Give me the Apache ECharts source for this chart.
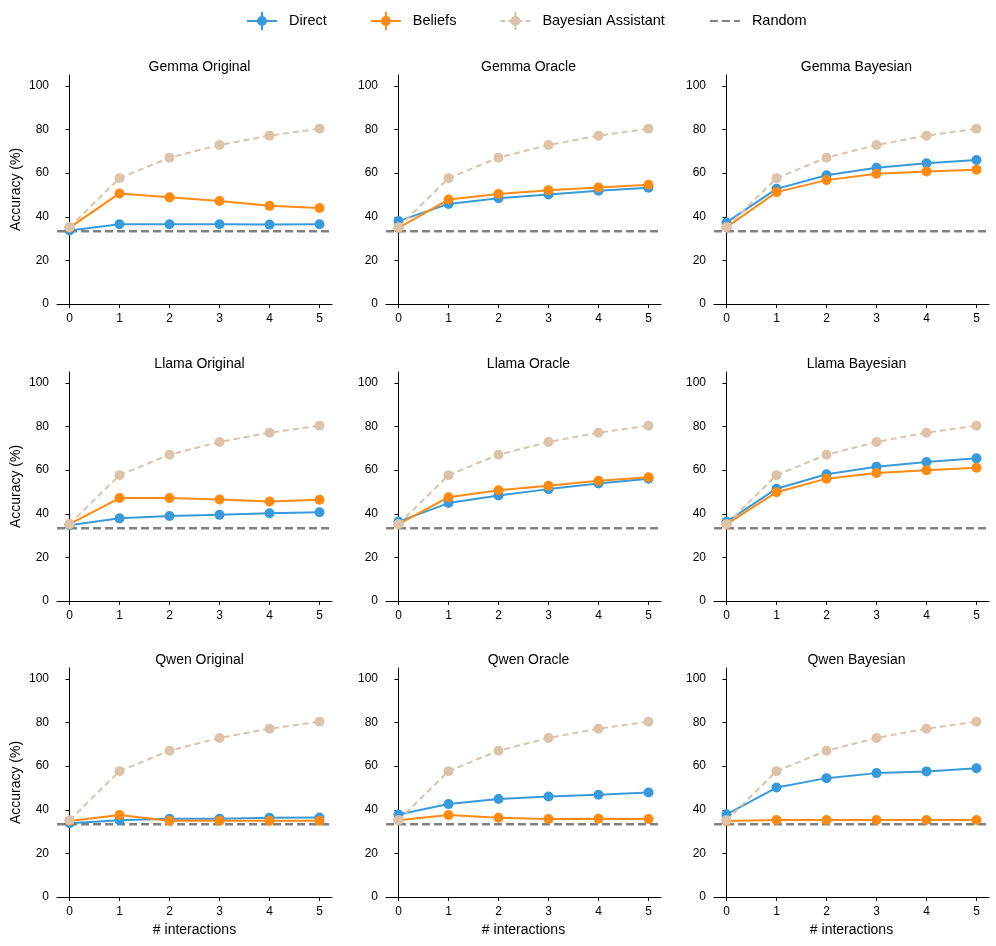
<!DOCTYPE html>
<html>
<head>
<meta charset="utf-8">
<script src="https://cdn.jsdelivr.net/npm/echarts@6/dist/echarts.min.js"></script>
<style>
html,body{margin:0;padding:0;background:#fff;}
#c{width:996px;height:946px;}
</style>
</head>
<body>
<div id="c"></div>
<script>
const interactions = [0, 1, 2, 3, 4, 5];
const panelTitles = [
  'Gemma Original', 'Gemma Oracle', 'Gemma Bayesian',
  'Llama Original', 'Llama Oracle', 'Llama Bayesian',
  'Qwen Original', 'Qwen Oracle', 'Qwen Bayesian'
];
const yTicks = [0, 20, 40, 60, 80, 100];
const randomLevel = 33.3;
const bayesianAssistant = [35.2, 57.7, 67.1, 72.9, 77.2, 80.4];

const directGemmaOriginal = [33.7, 36.6, 36.6, 36.6, 36.4, 36.6];
const beliefsGemmaOriginal = [35.0, 50.7, 48.9, 47.2, 45.0, 44.0];
const directGemmaOracle = [38.0, 45.9, 48.5, 50.2, 51.9, 53.3];
const beliefsGemmaOracle = [34.9, 47.9, 50.4, 52.2, 53.4, 54.7];
const directGemmaBayesian = [37.4, 52.8, 59.0, 62.5, 64.5, 66.0];
const beliefsGemmaBayesian = [35.2, 51.3, 56.8, 59.7, 60.8, 61.6];

const directLlamaOriginal = [34.7, 37.9, 39.0, 39.5, 40.2, 40.7];
const beliefsLlamaOriginal = [35.2, 47.2, 47.2, 46.5, 45.6, 46.4];
const directLlamaOracle = [36.4, 44.9, 48.4, 51.3, 53.9, 56.1];
const beliefsLlamaOracle = [35.2, 47.6, 50.8, 52.8, 55.1, 56.7];
const directLlamaBayesian = [36.3, 51.5, 58.1, 61.6, 63.7, 65.4];
const beliefsLlamaBayesian = [35.2, 49.9, 56.1, 58.7, 59.9, 61.1];

const directQwenOriginal = [33.8, 35.2, 35.9, 35.9, 36.3, 36.4];
const beliefsQwenOriginal = [34.9, 37.6, 35.0, 35.0, 35.0, 35.0];
const directQwenOracle = [37.8, 42.6, 44.9, 46.1, 46.9, 47.9];
const beliefsQwenOracle = [35.2, 37.6, 36.3, 35.8, 35.9, 35.8];
const directQwenBayesian = [37.9, 50.2, 54.5, 56.8, 57.6, 59.0];
const beliefsQwenBayesian = [34.9, 35.3, 35.3, 35.3, 35.3, 35.3];

const directAll = [directGemmaOriginal, directGemmaOracle, directGemmaBayesian,
  directLlamaOriginal, directLlamaOracle, directLlamaBayesian,
  directQwenOriginal, directQwenOracle, directQwenBayesian];
const beliefsAll = [beliefsGemmaOriginal, beliefsGemmaOracle, beliefsGemmaBayesian,
  beliefsLlamaOriginal, beliefsLlamaOracle, beliefsLlamaBayesian,
  beliefsQwenOriginal, beliefsQwenOracle, beliefsQwenBayesian];

const COL_DIRECT = '#3a9ad9';
const COL_BELIEFS = '#ff8a14';
const COL_BAYES = '#dcc3ab';
const COL_RANDOM = '#808080';
const FONT = 'Liberation Sans, Arial, Helvetica, sans-serif';

const colLeft = [57, 386, 714];
const colWidth = 275;
const rowTop = [75, 372, 668];
const rowHeight = 229;
const X_MIN = -0.25, X_MAX = 5.25;

const ICON_SOLID = 'path://M0,9h30v2h-30z M14,1h2v18h-2z M20,10a5,5 0 1,1 -10,0a5,5 0 1,1 10,0z';
const ICON_DASHED = 'path://M0,9h5v2h-5z M8,9h5v2h-5z M17,9h5v2h-5z M25,9h5v2h-5z M14,1h2v18h-2z M20,10a5,5 0 1,1 -10,0a5,5 0 1,1 10,0z';

const grids = [], xAxes = [], yAxes = [], series = [], titles = [];
const pair = arr => interactions.map((x, i) => [x, arr[i]]);

for (let p = 0; p < 9; p++) {
  const r = Math.floor(p / 3), c = p % 3;
  grids.push({left: colLeft[c], top: rowTop[r], width: colWidth, height: rowHeight, containLabel: false});
  titles.push({
    text: panelTitles[p],
    left: colLeft[c] + colWidth / 2,
    top: rowTop[r] - 20,
    textAlign: 'center',
    textStyle: {fontFamily: FONT, fontSize: 14, fontWeight: 'normal', color: '#000'}
  });
  xAxes.push({
    gridIndex: p, type: 'value', min: X_MIN, max: X_MAX,
    name: r === 2 ? '# interactions' : '',
    nameLocation: 'middle', nameGap: 26,
    nameTextStyle: {fontFamily: FONT, fontSize: 14, color: '#000'},
    axisLine: {show: true, lineStyle: {color: '#000', width: 1}},
    axisTick: {show: true, length: 4, lineStyle: {color: '#000'}, customValues: interactions},
    axisLabel: {fontFamily: FONT, fontSize: 12, color: '#000', margin: 9, customValues: interactions},
    splitLine: {show: false}
  });
  yAxes.push({
    gridIndex: p, type: 'value', min: 0, max: 105,
    name: c === 0 ? 'Accuracy (%)' : '',
    nameLocation: 'middle', nameGap: 34, nameRotate: 90,
    nameTextStyle: {fontFamily: FONT, fontSize: 14, color: '#000'},
    axisLine: {show: true, lineStyle: {color: '#000', width: 1}},
    axisTick: {show: true, length: 4, lineStyle: {color: '#000'}, customValues: yTicks},
    axisLabel: {fontFamily: FONT, fontSize: 12, color: '#000', margin: 8, customValues: yTicks},
    splitLine: {show: false}
  });
  series.push({
    name: 'Random', type: 'line', xAxisIndex: p, yAxisIndex: p,
    data: [[X_MIN, randomLevel], [X_MAX, randomLevel]],
    symbol: 'none', z: 1, silent: true,
    lineStyle: {color: COL_RANDOM, width: 2.5, type: [8, 4]},
    itemStyle: {color: COL_RANDOM}
  });
  series.push({
    name: 'Direct', type: 'line', xAxisIndex: p, yAxisIndex: p,
    data: pair(directAll[p]), symbol: 'circle', symbolSize: 10, z: 3,
    lineStyle: {color: COL_DIRECT, width: 2}, itemStyle: {color: COL_DIRECT}
  });
  series.push({
    name: 'Beliefs', type: 'line', xAxisIndex: p, yAxisIndex: p,
    data: pair(beliefsAll[p]), symbol: 'circle', symbolSize: 10, z: 4,
    lineStyle: {color: COL_BELIEFS, width: 2}, itemStyle: {color: COL_BELIEFS}
  });
  series.push({
    name: 'Bayesian Assistant', type: 'line', xAxisIndex: p, yAxisIndex: p,
    data: pair(bayesianAssistant), symbol: 'circle', symbolSize: 10, z: 5,
    lineStyle: {color: COL_BAYES, width: 2, type: [6, 4]}, itemStyle: {color: COL_BAYES}
  });
}

const chart = echarts.init(document.getElementById('c'), null, {renderer: 'canvas'});
chart.setOption({
  animation: false,
  backgroundColor: '#fff',
  title: titles,
  legend: {
    top: 7, left: 242, itemGap: 44, itemWidth: 30, itemHeight: 20,
    data: [
      {name: 'Direct', icon: ICON_SOLID},
      {name: 'Beliefs', icon: ICON_SOLID},
      {name: 'Bayesian Assistant', icon: ICON_DASHED},
      {name: 'Random', itemStyle: {opacity: 0}}
    ],
    textStyle: {fontFamily: FONT, fontSize: 14.5, color: '#000', padding: [0, 0, 0, 7]}
  },
  grid: grids, xAxis: xAxes, yAxis: yAxes, series: series
});
</script>
</body>
</html>
